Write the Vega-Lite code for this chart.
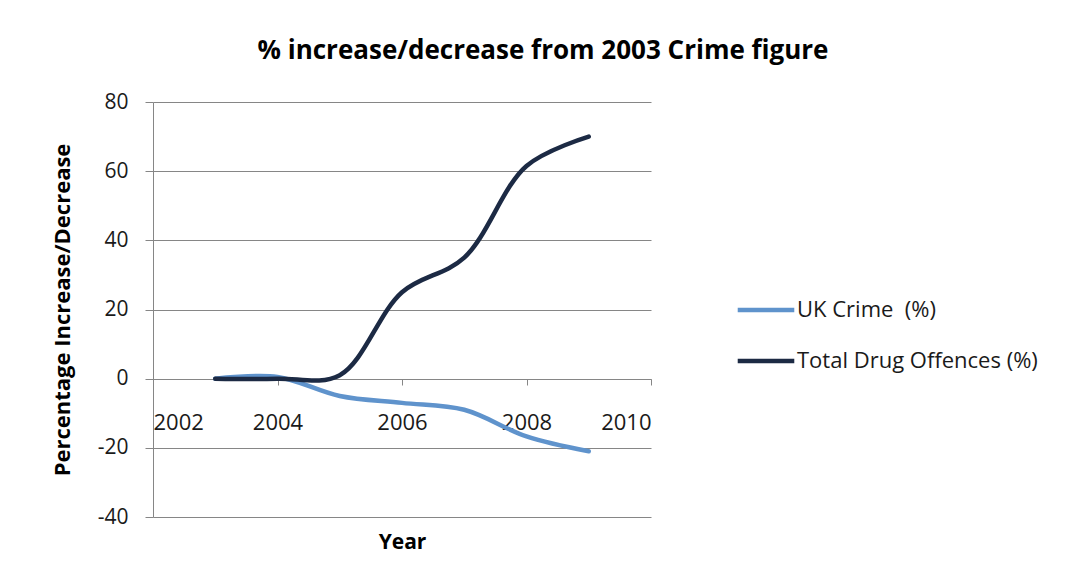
{
  "$schema": "https://vega.github.io/schema/vega-lite/v6.json",
  "autosize": "none",
  "width": 498,
  "height": 415,
  "padding": {"left": 153, "top": 102, "right": 418, "bottom": 70},
  "background": "white",
  "title": {
    "text": "% increase/decrease from 2003 Crime figure",
    "font": "Open Sans",
    "fontSize": 26,
    "fontWeight": "bold",
    "color": "#000000",
    "anchor": "middle",
    "dx": 141,
    "offset": 27
  },
  "data": {
    "values": [
      {"Year": 2003, "value": 0, "series": "UK Crime\u00a0\u00a0(%)"},
      {"Year": 2004, "value": 0.5, "series": "UK Crime\u00a0\u00a0(%)"},
      {"Year": 2005, "value": -5, "series": "UK Crime\u00a0\u00a0(%)"},
      {"Year": 2006, "value": -7, "series": "UK Crime\u00a0\u00a0(%)"},
      {"Year": 2007, "value": -9, "series": "UK Crime\u00a0\u00a0(%)"},
      {"Year": 2008, "value": -16.7, "series": "UK Crime\u00a0\u00a0(%)"},
      {"Year": 2009, "value": -21, "series": "UK Crime\u00a0\u00a0(%)"},
      {"Year": 2003, "value": 0, "series": "Total Drug Offences (%)"},
      {"Year": 2004, "value": 0, "series": "Total Drug Offences (%)"},
      {"Year": 2005, "value": 1, "series": "Total Drug Offences (%)"},
      {"Year": 2006, "value": 25, "series": "Total Drug Offences (%)"},
      {"Year": 2007, "value": 35, "series": "Total Drug Offences (%)"},
      {"Year": 2008, "value": 61.5, "series": "Total Drug Offences (%)"},
      {"Year": 2009, "value": 70, "series": "Total Drug Offences (%)"}
    ]
  },
  "mark": {"type": "line", "interpolate": "catmull-rom", "strokeWidth": 4.5, "strokeCap": "round"},
  "encoding": {
    "x": {
      "field": "Year",
      "type": "quantitative",
      "scale": {"domain": [2002, 2010], "nice": false, "zero": false},
      "axis": {
        "values": [2002, 2004, 2006, 2008, 2010],
        "format": "d",
        "offset": -138,
        "grid": false,
        "domainColor": "#868686",
        "tickColor": "#868686",
        "tickSize": 6,
        "labelFont": "Open Sans",
        "labelFontSize": 22,
        "labelColor": "#1a1a1a",
        "labelPadding": 27,
        "title": "Year",
        "titleFont": "Open Sans",
        "titleFontSize": 21,
        "titleFontWeight": "bold",
        "titleColor": "#000000",
        "titleY": 152
      }
    },
    "y": {
      "field": "value",
      "type": "quantitative",
      "scale": {"domain": [-40, 80], "nice": false},
      "axis": {
        "values": [-40, -20, 0, 20, 40, 60, 80],
        "labelExpr": "'' + datum.value",
        "grid": true,
        "gridColor": "#868686",
        "domainColor": "#868686",
        "tickColor": "#868686",
        "tickSize": 8,
        "labelFont": "Open Sans",
        "labelFontSize": 21,
        "labelColor": "#1a1a1a",
        "labelPadding": 17,
        "title": "Percentage Increase/Decrease",
        "titleFont": "Open Sans",
        "titleFontSize": 22,
        "titleFontWeight": "bold",
        "titleColor": "#000000",
        "titleX": -79
      }
    },
    "color": {
      "field": "series",
      "type": "nominal",
      "sort": ["UK Crime\u00a0\u00a0(%)", "Total Drug Offences (%)"],
      "scale": {"domain": ["UK Crime\u00a0\u00a0(%)", "Total Drug Offences (%)"], "range": ["#5f93cc", "#1c2a44"]},
      "legend": {
        "title": null,
        "orient": "none",
        "legendX": 582,
        "legendY": 177,
        "symbolType": "stroke",
        "symbolSize": 3200,
        "symbolStrokeWidth": 4.5,
        "rowPadding": 9,
        "labelFont": "Open Sans",
        "labelFontSize": 22,
        "labelColor": "#1a1a1a",
        "labelOffset": 0,
        "labelLimit": 400
      }
    }
  },
  "config": {"view": {"stroke": null}}
}
